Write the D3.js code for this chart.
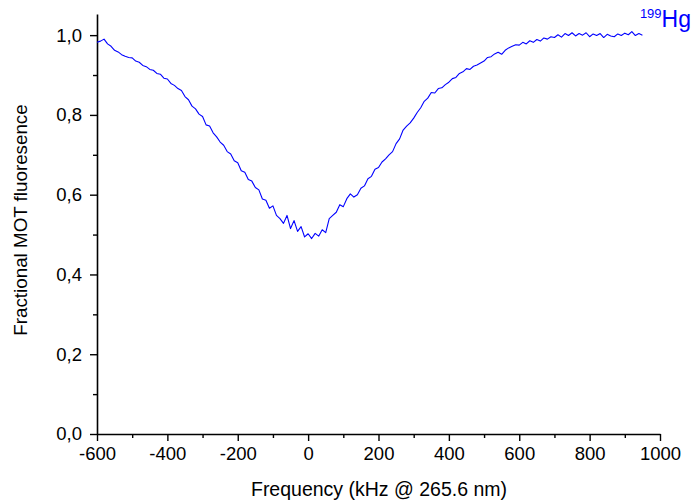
<!DOCTYPE html>
<html>
<head>
<meta charset="utf-8">
<script src="https://cdn.jsdelivr.net/npm/d3@7"></script>
<style>
  html, body { margin: 0; padding: 0; background: #fff; }
  svg { display: block; }
  text { font-family: "Liberation Sans", Arial, sans-serif; }
</style>
</head>
<body>
<svg id="chart" width="694" height="504"></svg>
<script>
// Frequency start/step (kHz) and fluorescence values
const freqStart = -600;
const freqStep = 10;
const fluorescence = [
  0.982, 0.985, 0.990, 0.978, 0.972, 0.962, 0.958, 0.951, 0.947, 0.944,
  0.943, 0.935, 0.932, 0.924, 0.921, 0.914, 0.912, 0.904, 0.902, 0.892,
  0.890, 0.879, 0.874, 0.866, 0.861, 0.846, 0.838, 0.822, 0.815, 0.802,
  0.796, 0.775, 0.772, 0.755, 0.745, 0.732, 0.724, 0.708, 0.702, 0.685,
  0.680, 0.660, 0.656, 0.638, 0.634, 0.618, 0.612, 0.589, 0.586, 0.566,
  0.572, 0.548, 0.540, 0.528, 0.548, 0.515, 0.535, 0.508, 0.520, 0.494,
  0.502, 0.490, 0.503, 0.496, 0.512, 0.505, 0.540, 0.548, 0.556, 0.575,
  0.570, 0.590, 0.602, 0.594, 0.600, 0.616, 0.622, 0.640, 0.646, 0.664,
  0.668, 0.682, 0.690, 0.700, 0.708, 0.728, 0.740, 0.762, 0.772, 0.780,
  0.792, 0.806, 0.818, 0.834, 0.842, 0.856, 0.855, 0.866, 0.868, 0.876,
  0.882, 0.891, 0.894, 0.904, 0.908, 0.916, 0.914, 0.922, 0.925, 0.930,
  0.935, 0.944, 0.946, 0.953, 0.957, 0.952, 0.962, 0.968, 0.972, 0.976,
  0.975, 0.982, 0.978, 0.986, 0.982, 0.989, 0.985, 0.993, 0.990, 0.996,
  0.994, 1.001, 0.995, 1.004, 0.999, 1.006, 0.998, 1.004, 1.000, 1.006,
  0.996, 1.003, 0.999, 1.004, 0.994, 1.002, 0.998, 0.996, 1.003, 0.999,
  1.005, 1.001, 1.009, 0.999, 1.004, 1.000
];
const xTicks = [-600, -400, -200, 0, 200, 400, 600, 800, 1000];
const xMinorTicks = [-500, -300, -100, 100, 300, 500, 700, 900];
const yTicks = [0, 0.2, 0.4, 0.6, 0.8, 1.0];
const yMinorTicks = [0.1, 0.3, 0.5, 0.7, 0.9];
const xLabel = "Frequency (kHz @ 265.6 nm)";
const yLabel = "Fractional MOT fluoresence";

const data = fluorescence.map((v, i) => ({ f: freqStart + i * freqStep, v }));

const svg = d3.select("#chart");
const mLeft = 97, mRight = 660, mTop = 14, mBottom = 434;

const x = d3.scaleLinear().domain([-600, 1000]).range([mLeft, mRight]);
const y = d3.scaleLinear().domain([0, 1.053]).range([mBottom, mTop]);

const fmtY = d => d.toFixed(1).replace(".", ",");
const fmtX = d => String(d);

// X axis
const gx = svg.append("g").attr("transform", `translate(0,${mBottom})`);
gx.call(d3.axisBottom(x).tickValues(xTicks).tickSize(7).tickPadding(6).tickFormat(fmtX).tickSizeOuter(0));
gx.append("g").call(d3.axisBottom(x).tickValues(xMinorTicks).tickSize(4).tickFormat("").tickSizeOuter(0))
  .select(".domain").remove();

// Y axis
const gy = svg.append("g").attr("transform", `translate(${mLeft},0)`);
gy.call(d3.axisLeft(y).tickValues(yTicks).tickSize(7).tickPadding(8).tickFormat(fmtY).tickSizeOuter(0));
gy.append("g").call(d3.axisLeft(y).tickValues(yMinorTicks).tickSize(4).tickFormat("").tickSizeOuter(0))
  .select(".domain").remove();

svg.selectAll(".domain").attr("stroke", "#000").attr("stroke-width", 1.6);
svg.selectAll(".tick line").attr("stroke", "#000").attr("stroke-width", 1.4);
svg.selectAll(".tick text").attr("font-size", 18.5).attr("fill", "#000")
  .attr("font-family", "'Liberation Sans', Arial, sans-serif");

// Data line
svg.append("path")
  .datum(data)
  .attr("fill", "none")
  .attr("stroke", "#0000ff")
  .attr("stroke-width", 1.1)
  .attr("stroke-linejoin", "round")
  .attr("d", d3.line().x(d => x(d.f)).y(d => y(d.v)));

// Axis titles
svg.append("text")
  .attr("x", 379)
  .attr("y", 496)
  .attr("text-anchor", "middle")
  .attr("font-size", 19.5)
  .attr("fill", "#000")
  .text(xLabel);

svg.append("text")
  .attr("transform", `translate(27,220) rotate(-90)`)
  .attr("text-anchor", "middle")
  .attr("font-size", 18.8)
  .attr("fill", "#000")
  .text(yLabel);

// Isotope label
const iso = svg.append("text")
  .attr("x", 691)
  .attr("y", 27)
  .attr("text-anchor", "end")
  .attr("fill", "#0000ff");
iso.append("tspan").attr("font-size", 13).attr("dy", -9).text("199");
iso.append("tspan").attr("font-size", 23).attr("dy", 9).text("Hg");
</script>
</body>
</html>
